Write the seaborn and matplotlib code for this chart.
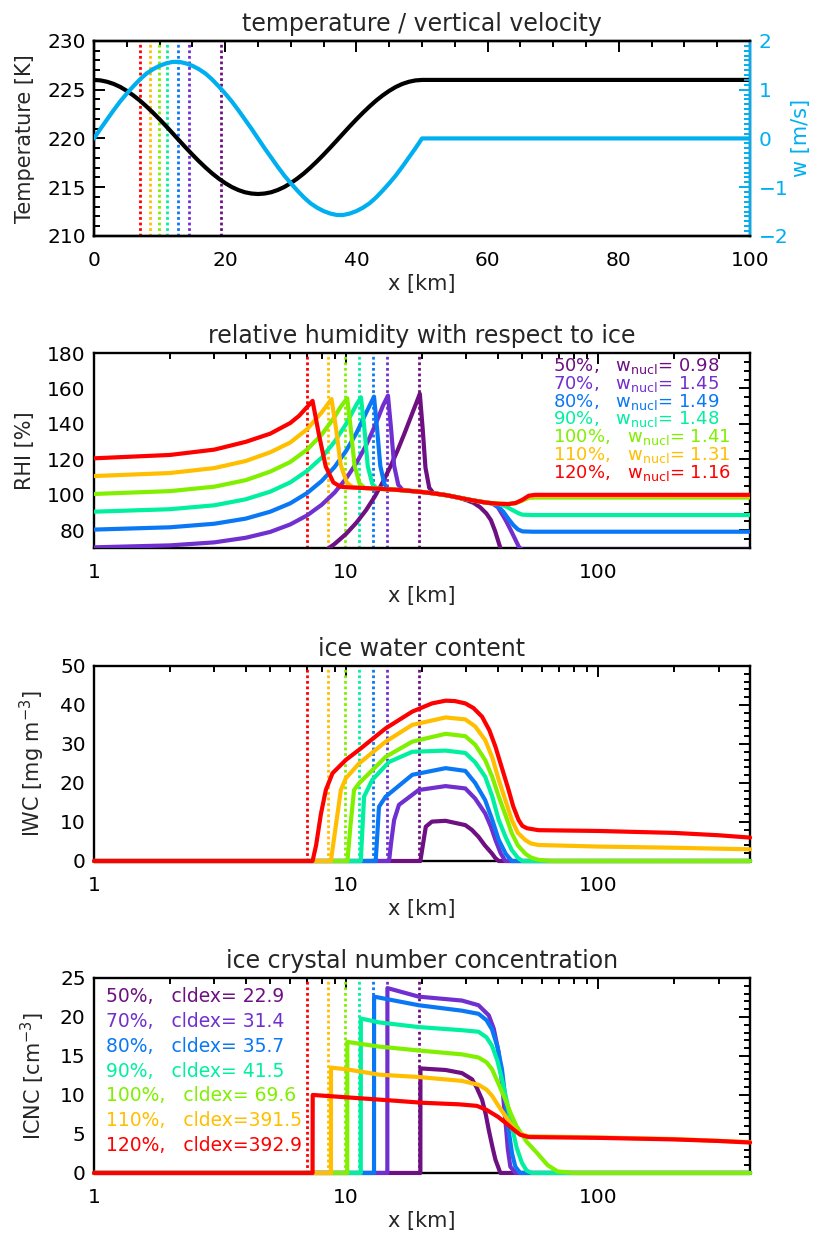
import matplotlib
matplotlib.use("Agg")
import matplotlib.pyplot as plt
import matplotlib.ticker as mticker
import seaborn as sns

sns.set_style("white")
plt.rcParams['font.family'] = ['DejaVu Sans']
plt.rcParams['mathtext.fontset'] = 'dejavusans'

#%% values

rh_labels = ["50%", "70%", "80%", "90%", "100%", "110%", "120%"]
colors = ["#6e0f82", "#7030d0", "#0a78f5", "#00f0a0", "#80f000", "#ffbf00", "#ff0000"]
w_nucl = [0.98, 1.45, 1.49, 1.48, 1.41, 1.31, 1.16]
cldex = [22.9, 31.4, 35.7, 41.5, 69.6, 391.5, 392.9]
x_nucl = [19.4, 14.5, 12.8, 11.2, 9.9, 8.5, 7.0]

# temperature / vertical velocity, linear x [km]
x_tw = [0, 1, 2, 3, 4, 5, 6, 7, 8, 9, 10, 11, 12, 13, 14, 15, 16, 17, 18, 19, 20, 21, 22,
        23, 24, 25, 26, 27, 28, 29, 30, 31, 32, 33, 34, 35, 36, 37, 38, 39, 40, 41, 42, 43,
        44, 45, 46, 47, 48, 49, 50, 100]
temp = [226.00, 225.95, 225.81, 225.59, 225.28, 224.88, 224.41, 223.88, 223.28, 222.64,
        221.96, 221.25, 220.52, 219.78, 219.05, 218.34, 217.66, 217.02, 216.42, 215.89,
        215.42, 215.02, 214.71, 214.48, 214.35, 214.30, 214.35, 214.48, 214.71, 215.02,
        215.42, 215.89, 216.42, 217.02, 217.66, 218.34, 219.05, 219.78, 220.52, 221.25,
        221.96, 222.64, 223.28, 223.88, 224.41, 224.88, 225.28, 225.59, 225.81, 225.95,
        226.00, 226.00]
w = [0.00, 0.20, 0.39, 0.58, 0.76, 0.92, 1.07, 1.21, 1.33, 1.42, 1.49, 1.54, 1.57, 1.57,
     1.54, 1.49, 1.42, 1.33, 1.21, 1.07, 0.92, 0.76, 0.58, 0.39, 0.20, 0.00, -0.20, -0.39,
     -0.58, -0.76, -0.92, -1.07, -1.21, -1.33, -1.42, -1.49, -1.54, -1.57, -1.57, -1.54,
     -1.49, -1.42, -1.33, -1.21, -1.07, -0.92, -0.76, -0.58, -0.39, -0.20, 0.00, 0.00]

# relative humidity wrt ice [%]
rhi_50_x = [8.5, 9, 10, 11, 12, 13, 14, 15, 16, 17, 18, 19, 19.6, 20.11, 20.64, 21.36, 22.15,
            25, 28, 30, 32, 34, 36, 37.5, 39, 40.9, 42.5, 44, 400]
rhi_50 = [69.8, 72.3, 78.0, 84.4, 91.4, 99.1, 107.4, 116.1, 125.1, 134.3, 143.4, 152.0, 157.0,
          137.6, 115.3, 104.0, 101.1, 99.8, 98.4, 97.0, 95.5, 93.0, 89.5, 85.8, 79.5, 70.0,
          62.0, 55.0, 50.0]
rhi_70_x = [1, 2, 3, 4, 5, 6, 7, 8, 9, 10, 11, 12, 13, 14, 14.65, 15.07, 15.51, 16.1, 16.7,
            18, 20, 22, 25, 28, 32, 36, 38, 40, 42, 43, 45, 47, 48.5, 50, 400]
rhi_70 = [70.4, 71.5, 73.2, 75.8, 79.1, 83.3, 88.4, 94.4, 101.3, 109.2, 118.1, 127.9, 138.8,
          150.3, 156.0, 137.5, 116.3, 105.6, 102.9, 102.2, 101.6, 100.9, 99.8, 98.4, 96.8,
          95.6, 95.2, 93.0, 88.0, 85.5, 80.0, 74.5, 70.5, 69.0, 69.0]
rhi_80_x = [1, 2, 3, 4, 5, 6, 7, 8, 9, 10, 11, 12, 12.9, 13.27, 13.66, 14.19, 14.7, 16, 18,
            20, 22, 25, 28, 32, 36, 38, 40, 42, 44, 46, 48, 50, 55, 400]
rhi_80 = [80.4, 81.7, 83.7, 86.6, 90.5, 95.2, 101.0, 107.8, 115.7, 124.8, 135.0, 146.2, 155.4,
          137.2, 116.4, 106.0, 103.3, 102.8, 102.2, 101.6, 100.9, 99.8, 98.4, 96.8, 95.6,
          95.2, 93.5, 90.5, 86.5, 83.0, 80.5, 79.4, 79.2, 79.2]
rhi_90_x = [1, 2, 3, 4, 5, 6, 7, 8, 9, 10, 11, 11.45, 11.82, 12.19, 12.71, 13.28, 14, 16, 18,
            20, 22, 25, 28, 32, 36, 40, 43, 46, 48, 50, 55, 400]
rhi_90 = [90.5, 91.9, 94.1, 97.5, 101.8, 107.0, 113.5, 121.0, 130.0, 140.0, 151.0, 155.0,
          137.0, 116.0, 106.0, 103.5, 103.3, 102.8, 102.2, 101.6, 100.9, 99.8, 98.4, 96.8,
          95.6, 95.0, 93.5, 91.2, 89.8, 88.8, 88.6, 88.6]
rhi_100_x = [1, 2, 3, 4, 5, 6, 7, 8, 9, 9.5, 10.1, 10.45, 10.8, 11.3, 11.8, 12, 14, 16, 18,
             20, 22, 25, 28, 32, 36, 40, 44, 47, 50, 53, 56, 400]
rhi_100 = [100.5, 102.1, 104.6, 108.3, 113.1, 118.5, 125.5, 134.0, 144.0, 149.5, 154.5,
           136.5, 116.5, 106.5, 104.0, 103.8, 103.3, 102.8, 102.2, 101.6, 100.9, 99.8, 98.4,
           96.8, 95.6, 95.0, 94.8, 95.3, 96.8, 98.3, 98.5, 98.5]
rhi_110_x = [1, 2, 3, 4, 5, 6, 7, 8, 8.75, 9.13, 9.51, 10.06, 10.6, 12, 14, 16, 18, 20, 22,
             25, 28, 32, 36, 40, 44, 47, 50, 53, 56, 400]
rhi_110 = [110.6, 112.3, 115.1, 119.1, 124.0, 129.5, 137.0, 146.5, 154.0, 137.0, 117.0,
           107.0, 104.2, 103.8, 103.3, 102.8, 102.2, 101.6, 100.9, 99.8, 98.4, 96.8, 95.6,
           95.0, 94.8, 95.4, 97.0, 99.0, 99.3, 99.3]
rhi_120_x = [1, 2, 3, 4, 5, 6, 6.5, 7, 7.36, 7.8, 8.3, 8.9, 9.5, 10, 12, 14, 16, 18, 20, 22,
             25, 28, 32, 36, 40, 44, 47, 50, 53, 56, 60, 400]
rhi_120 = [120.6, 122.5, 125.5, 129.9, 134.5, 140.5, 144.5, 149.5, 153.0, 134.0, 116.0,
           107.0, 104.6, 104.3, 103.8, 103.3, 102.8, 102.2, 101.6, 100.9, 99.8, 98.4, 96.8,
           95.6, 95.0, 94.8, 95.4, 97.2, 99.5, 100.0, 100.0, 100.0]

# ice water content [mg m-3]
iwc_50_x = [1, 19.7, 20.2, 20.7, 21.9, 24.8, 29.7, 31.5, 33.5, 35.5, 37.9, 39, 40.3, 400]
iwc_50 = [0, 0, 4.5, 8.8, 10.1, 10.3, 9.2, 8.0, 6.2, 4.0, 1.9, 0.8, 0, 0]
iwc_70_x = [1, 14.8, 15.1, 15.5, 16.2, 19.4, 24.8, 29.7, 32.5, 35.6, 37.5, 39.1, 41, 42.8, 400]
iwc_70 = [0, 0, 5.0, 10.5, 14.4, 18.2, 19.2, 18.6, 16.0, 12.2, 8.8, 5.4, 2.0, 0, 0]
iwc_80_x = [1, 13.1, 13.3, 13.5, 14.35, 18.3, 24.8, 29.7, 32.5, 35.6, 38, 40.3, 43, 45.4, 400]
iwc_80 = [0, 0, 7.0, 13.9, 16.5, 22.1, 23.8, 23.1, 20.0, 15.6, 10.5, 5.4, 1.8, 0, 0]
iwc_90_x = [1, 11.43, 11.6, 11.78, 12.7, 14.8, 18.3, 24.8, 29.7, 32.5, 35.6, 38, 40.3, 43,
            45.4, 48, 50, 400]
iwc_90 = [0, 0, 8.0, 16.5, 20.8, 25.4, 28.0, 28.3, 27.7, 25.3, 21.6, 16.5, 10.5, 6.0, 2.8,
          0.8, 0, 0]
iwc_100_x = [1, 10.12, 10.4, 10.75, 11.25, 14.35, 18.3, 24.8, 29.7, 32.5, 35.6, 38, 40.3, 43,
             45.4, 48, 51.3, 54, 57.9, 65, 400]
iwc_100 = [0, 0, 9.0, 18.2, 19.9, 26.7, 30.6, 32.6, 32.0, 29.8, 25.9, 21.5, 16.5, 11.5, 7.1,
           4.0, 1.9, 0.9, 0.3, 0, 0]
iwc_110_x = [1, 8.7, 9.1, 9.53, 9.97, 11.25, 14.35, 18.3, 24.8, 29.7, 32.5, 35.6, 38, 40.3,
             43, 45.4, 48, 51.3, 54, 57.9, 100, 200, 400]
iwc_110 = [0, 0, 9.0, 18.2, 21.2, 25.0, 30.6, 34.9, 36.8, 36.3, 34.5, 31.0, 26.5, 20.8, 15.2,
           10.5, 7.2, 5.4, 4.5, 4.1, 3.7, 3.4, 3.0]
iwc_120_x = [1, 7.36, 7.6, 7.94, 8.31, 8.83, 9.97, 11.25, 14.35, 18.3, 21.9, 24.8, 27, 29.7,
             32, 34.6, 37, 39.1, 41.5, 44.1, 46, 48.3, 50, 52.1, 57.9, 100, 200, 300, 400]
iwc_120 = [0, 0, 4.0, 12.0, 18.2, 22.5, 25.9, 28.5, 34.0, 38.3, 40.4, 41.1, 41.0, 40.4, 39.2,
           37.0, 33.5, 29.3, 23.8, 18.2, 14.0, 10.5, 9.0, 8.4, 7.9, 7.7, 7.2, 6.6, 6.0]

# ice crystal number concentration [cm-3]
icnc_50_x = [1, 19.7, 19.71, 24.8, 28.8, 31.6, 33, 34.6, 35.8, 36.8, 38, 39.1, 40.9, 400]
icnc_50 = [0, 0, 13.4, 13.2, 12.8, 12.0, 10.9, 9.4, 7.5, 5.5, 3.4, 1.7, 0, 0]
icnc_70_x = [1, 14.57, 14.58, 19.4, 28.8, 33.5, 36.8, 38.5, 40.3, 41.5, 42.8, 43.8, 44.8, 47,
             400]
icnc_70 = [0, 0, 23.7, 22.6, 22.1, 21.5, 20.2, 18.5, 15.4, 11.5, 6.8, 3.0, 0.8, 0, 0]
icnc_80_x = [1, 12.9, 12.91, 19.4, 28.8, 33.5, 36, 37.9, 39.8, 41.5, 43, 44.1, 45.5, 46.9, 49,
             400]
icnc_80 = [0, 0, 22.6, 21.5, 20.8, 20.4, 19.6, 18.4, 16.2, 13.3, 9.0, 5.5, 2.5, 0.8, 0, 0]
icnc_90_x = [1, 11.43, 11.44, 13.5, 19.4, 28.8, 33.5, 36, 37.9, 39.8, 41.5, 43.5, 45.4, 47.5,
             49.8, 52, 54.5, 400]
icnc_90 = [0, 0, 19.8, 19.3, 18.7, 18.3, 18.1, 17.4, 16.3, 14.4, 12.0, 9.0, 6.0, 3.2, 1.3,
           0.3, 0, 0]
icnc_100_x = [1, 10.1, 10.11, 13.5, 19.4, 28.8, 33.5, 36, 37.9, 40, 42.8, 45, 47.4, 52, 57.4,
              63, 69, 80, 400]
icnc_100 = [0, 0, 16.8, 16.2, 15.7, 15.2, 14.8, 14.2, 13.3, 11.6, 9.4, 7.6, 6.0, 4.0, 2.5,
            1.0, 0.2, 0, 0]
icnc_110_x = [1, 8.7, 8.71, 10, 13.5, 19.4, 28.8, 33.5, 36, 37.9, 40, 42.8, 45.5, 48.3, 52.8,
              100, 200, 400]
icnc_110 = [0, 0, 13.5, 13.3, 12.6, 12.3, 11.8, 11.3, 10.7, 9.9, 8.7, 7.3, 6.0, 5.1, 4.7,
            4.55, 4.35, 3.95]
icnc_120_x = [1, 7.36, 7.37, 10, 15, 20, 28, 33, 36, 40, 43, 46, 49, 53, 100, 200, 300, 400]
icnc_120 = [0, 0, 10.0, 9.7, 9.3, 9.0, 8.8, 8.6, 8.1, 7.2, 6.4, 5.6, 4.9, 4.6, 4.5, 4.3,
            4.1, 3.9]

rhi_x = [rhi_50_x, rhi_70_x, rhi_80_x, rhi_90_x, rhi_100_x, rhi_110_x, rhi_120_x]
rhi_y = [rhi_50, rhi_70, rhi_80, rhi_90, rhi_100, rhi_110, rhi_120]
iwc_x = [iwc_50_x, iwc_70_x, iwc_80_x, iwc_90_x, iwc_100_x, iwc_110_x, iwc_120_x]
iwc_y = [iwc_50, iwc_70, iwc_80, iwc_90, iwc_100, iwc_110, iwc_120]
icnc_x = [icnc_50_x, icnc_70_x, icnc_80_x, icnc_90_x, icnc_100_x, icnc_110_x, icnc_120_x]
icnc_y = [icnc_50, icnc_70, icnc_80, icnc_90, icnc_100, icnc_110, icnc_120]

#%% styling helpers

lw = 3.0
fs_title = 17
fs_label = 15
fs_tick = 14.5
wblue = "#00aff0"


def idl_axes(ax, right=True):
    ax.tick_params(which='both', direction='in', top=True, right=right, width=1.4,
                   labelsize=fs_tick, colors='k')
    ax.tick_params(which='major', length=8)
    ax.tick_params(which='minor', length=4)
    ax.tick_params(axis='x', pad=11)
    ax.tick_params(axis='y', pad=6)
    for sp in ax.spines.values():
        sp.set_linewidth(1.7)
        sp.set_color('k')


def log_x(ax):
    ax.set_xscale('log')
    ax.set_xlim(1, 400)
    ax.xaxis.set_major_locator(mticker.FixedLocator([1, 10, 100]))
    ax.xaxis.set_major_formatter(mticker.FixedFormatter(['1', '10', '100']))
    ax.xaxis.set_minor_locator(mticker.LogLocator(base=10, subs=range(2, 10)))
    ax.xaxis.set_minor_formatter(mticker.NullFormatter())


def nucl_lines(ax):
    for xv, c in zip(x_nucl, colors):
        ax.axvline(xv, color=c, lw=2.0, ls=(0, (1.0, 1.0)), zorder=1)


def draw_set(ax, xs, ys, clip=True):
    for xv, yv, c in zip(xs, ys, colors):
        sns.lineplot(x=xv, y=yv, ax=ax, color=c, lw=lw, estimator=None, sort=False,
                     zorder=3)
        ax.lines[-1].set_clip_on(clip)
        ax.lines[-1].set_solid_joinstyle('round')


fig = plt.figure(figsize=(8.13, 12.36), dpi=100)
left, width, height = 0.1156, 0.807, 0.1578

#%% panel 1: temperature / vertical velocity
ax1 = fig.add_axes([left, 0.8091, width, height])
nucl_lines(ax1)
sns.lineplot(x=x_tw, y=temp, ax=ax1, color='k', lw=lw, estimator=None, sort=False, zorder=3)
ax1.set_xlim(0, 100)
ax1.set_ylim(210, 230)
idl_axes(ax1, right=False)
ax1.xaxis.set_major_locator(mticker.MultipleLocator(20))
ax1.xaxis.set_minor_locator(mticker.MultipleLocator(5))
ax1.yaxis.set_major_locator(mticker.MultipleLocator(5))
ax1.yaxis.set_minor_locator(mticker.MultipleLocator(1))
ax1.set_title("temperature / vertical velocity", fontsize=fs_title, pad=7)
ax1.set_xlabel("x [km]", fontsize=fs_label, labelpad=3)
ax1.set_ylabel("Temperature [K]", fontsize=fs_label, labelpad=9)

ax1b = ax1.twinx()
sns.lineplot(x=x_tw, y=w, ax=ax1b, color=wblue, lw=lw, estimator=None, sort=False, zorder=3)
ax1b.set_ylim(-2, 2)
ax1b.set_xlim(0, 100)
ax1b.yaxis.set_major_locator(mticker.MultipleLocator(1))
ax1b.yaxis.set_minor_locator(mticker.MultipleLocator(0.1))
ax1b.tick_params(which='both', direction='in', left=False, right=True, top=False,
                 bottom=False, width=1.4, colors=wblue, labelsize=fs_tick, pad=6)
ax1b.tick_params(which='major', length=8)
ax1b.tick_params(which='minor', length=4)
for name, sp in ax1b.spines.items():
    sp.set_linewidth(1.7)
    sp.set_color(wblue if name == 'right' else 'k')
ax1b.set_ylabel("w [m/s]", fontsize=fs_label, color=wblue, labelpad=2)

#%% panel 2: RHI
ax2 = fig.add_axes([left, 0.5566, width, height])
nucl_lines(ax2)
draw_set(ax2, rhi_x, rhi_y, clip=True)
log_x(ax2)
ax2.set_ylim(70, 180)
idl_axes(ax2)
ax2.yaxis.set_major_locator(mticker.FixedLocator([80, 100, 120, 140, 160, 180]))
ax2.yaxis.set_minor_locator(mticker.MultipleLocator(5))
ax2.set_title("relative humidity with respect to ice", fontsize=fs_title, pad=7)
ax2.set_xlabel("x [km]", fontsize=fs_label, labelpad=3)
ax2.set_ylabel("RHI [%]", fontsize=fs_label, labelpad=9)
for i, (lab, val, c) in enumerate(zip(rh_labels, w_nucl, colors)):
    ax2.text(0.70, 0.906 - i * 0.0908, f"{lab},   w$_{{\\rm nucl}}$={val:5.2f}",
             transform=ax2.transAxes, color=c, fontsize=13, ha='left', va='baseline')

#%% panel 3: IWC
ax3 = fig.add_axes([left, 0.3034, width, height])
nucl_lines(ax3)
draw_set(ax3, iwc_x, iwc_y, clip=False)
log_x(ax3)
ax3.set_ylim(0, 50)
idl_axes(ax3)
ax3.yaxis.set_major_locator(mticker.MultipleLocator(10))
ax3.yaxis.set_minor_locator(mticker.MultipleLocator(2))
ax3.set_title("ice water content", fontsize=fs_title, pad=7)
ax3.set_xlabel("x [km]", fontsize=fs_label, labelpad=3)
ax3.set_ylabel("IWC [mg m$^{-3}$]", fontsize=fs_label, labelpad=9)

#%% panel 4: ICNC
ax4 = fig.add_axes([left, 0.0510, width, height])
nucl_lines(ax4)
draw_set(ax4, icnc_x, icnc_y, clip=False)
log_x(ax4)
ax4.set_ylim(0, 25)
idl_axes(ax4)
ax4.yaxis.set_major_locator(mticker.MultipleLocator(5))
ax4.yaxis.set_minor_locator(mticker.MultipleLocator(1))
ax4.set_title("ice crystal number concentration", fontsize=fs_title, pad=7)
ax4.set_xlabel("x [km]", fontsize=fs_label, labelpad=3)
ax4.set_ylabel("ICNC [cm$^{-3}$]", fontsize=fs_label, labelpad=9)
for i, (lab, val, c) in enumerate(zip(rh_labels, cldex, colors)):
    ax4.text(0.018, 0.875 - i * 0.127, f"{lab},   cldex={val:5.1f}",
             transform=ax4.transAxes, color=c, fontsize=13.5, ha='left', va='baseline')

fig.savefig("out.png", dpi=100)
